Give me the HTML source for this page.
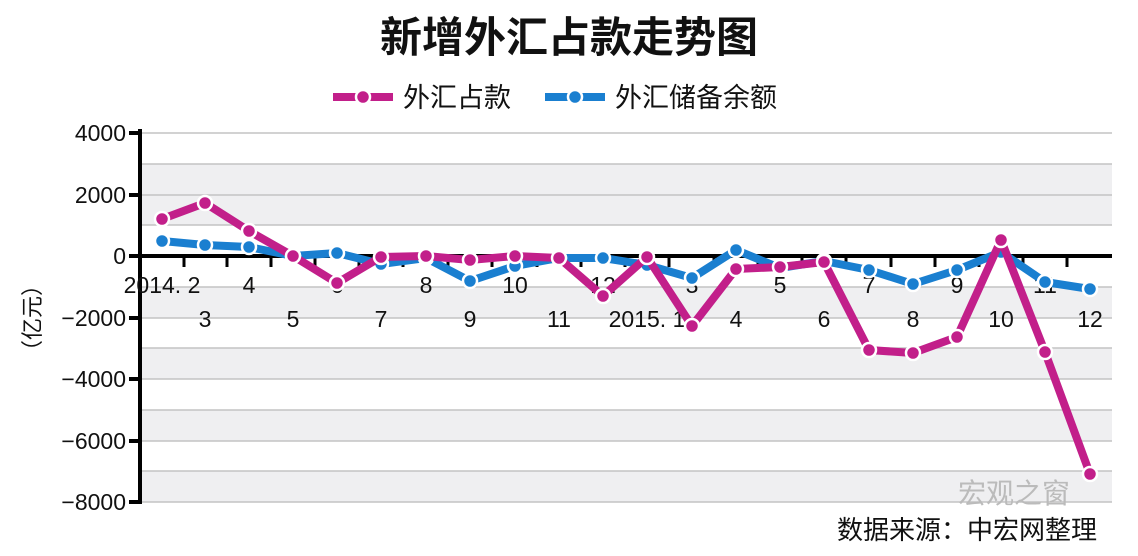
<!DOCTYPE html>
<html><head><meta charset="utf-8"><style>
body{margin:0;background:#fff}
svg text{font-family:"Liberation Sans","Noto Sans CJK SC",sans-serif}
</style></head><body>
<svg width="1138" height="551" viewBox="0 0 1138 551" xmlns="http://www.w3.org/2000/svg">
<text x="569" y="52" text-anchor="middle" font-size="42" font-weight="bold" fill="#111">新增外汇占款走势图</text>
<line x1="333" y1="97" x2="393" y2="97" stroke="#c21f8a" stroke-width="8"/>
<circle cx="363" cy="97" r="7" fill="#c21f8a" stroke="#fff" stroke-width="2.5"/>
<text x="403" y="107" font-size="27" fill="#111">外汇占款</text>
<line x1="545" y1="97" x2="605" y2="97" stroke="#1a7fd0" stroke-width="8"/>
<circle cx="575" cy="97" r="7" fill="#1a7fd0" stroke="#fff" stroke-width="2.5"/>
<text x="615" y="107" font-size="27" fill="#111">外汇储备余额</text>
<g fill="#efeff1">
<rect x="141" y="164" width="971" height="61"/>
<rect x="141" y="287" width="971" height="31"/>
<rect x="141" y="348" width="971" height="31"/>
<rect x="141" y="410" width="971" height="31"/>
<rect x="141" y="471" width="971" height="31"/>
</g>
<g stroke="#c4c4c4" stroke-width="1.5">
<line x1="141" y1="133" x2="1112" y2="133"/><line x1="141" y1="164" x2="1112" y2="164"/>
<line x1="141" y1="195" x2="1112" y2="195"/><line x1="141" y1="225" x2="1112" y2="225"/>
<line x1="141" y1="287" x2="1112" y2="287"/><line x1="141" y1="318" x2="1112" y2="318"/>
<line x1="141" y1="348" x2="1112" y2="348"/><line x1="141" y1="379" x2="1112" y2="379"/>
<line x1="141" y1="410" x2="1112" y2="410"/><line x1="141" y1="441" x2="1112" y2="441"/>
<line x1="141" y1="471" x2="1112" y2="471"/><line x1="141" y1="502" x2="1112" y2="502"/>
</g>
<g stroke="#000" stroke-width="4">
<line x1="140" y1="129" x2="140" y2="504"/>
<line x1="138" y1="256" x2="1112" y2="256"/>
<line x1="129" y1="133" x2="140" y2="133"/><line x1="129" y1="195" x2="140" y2="195"/>
<line x1="129" y1="256" x2="140" y2="256"/><line x1="129" y1="318" x2="140" y2="318"/>
<line x1="129" y1="379" x2="140" y2="379"/><line x1="129" y1="441" x2="140" y2="441"/>
<line x1="129" y1="502" x2="140" y2="502"/>
</g>
<g font-size="23" fill="#111" text-anchor="end">
<text x="126" y="141">4000</text><text x="126" y="203">2000</text><text x="126" y="264">0</text>
<text x="126" y="326">−2000</text><text x="126" y="387">−4000</text><text x="126" y="449">−6000</text><text x="126" y="510">−8000</text>
</g>
<text transform="translate(40,318) rotate(-90)" font-size="22" fill="#111" text-anchor="middle">（亿元）</text>
<g font-size="23" fill="#111" text-anchor="middle">
<text x="162" y="293">2014. 2</text><text x="205" y="327">3</text><text x="249" y="293">4</text>
<text x="293" y="327">5</text><text x="337" y="293">6</text><text x="381" y="327">7</text>
<text x="426" y="293">8</text><text x="470" y="327">9</text><text x="515" y="293">10</text>
<text x="559" y="327">11</text><text x="603" y="293">12</text><text x="647" y="327">2015. 1</text>
<text x="692" y="293">3</text><text x="736" y="327">4</text><text x="780" y="293">5</text>
<text x="824" y="327">6</text><text x="869" y="293">7</text><text x="913" y="327">8</text>
<text x="957" y="293">9</text><text x="1001" y="327">10</text><text x="1045" y="293">11</text>
<text x="1090" y="327">12</text>
</g>
<g stroke="#000" stroke-width="3">
<line x1="184" y1="256" x2="184" y2="267"/><line x1="227" y1="256" x2="227" y2="267"/>
<line x1="271" y1="256" x2="271" y2="267"/><line x1="315" y1="256" x2="315" y2="267"/>
<line x1="359" y1="256" x2="359" y2="267"/><line x1="403" y1="256" x2="403" y2="267"/>
<line x1="448" y1="256" x2="448" y2="267"/><line x1="492" y1="256" x2="492" y2="267"/>
<line x1="537" y1="256" x2="537" y2="267"/><line x1="581" y1="256" x2="581" y2="267"/>
<line x1="625" y1="256" x2="625" y2="267"/><line x1="669" y1="256" x2="669" y2="267"/>
<line x1="714" y1="256" x2="714" y2="267"/><line x1="758" y1="256" x2="758" y2="267"/>
<line x1="802" y1="256" x2="802" y2="267"/><line x1="846" y1="256" x2="846" y2="267"/>
<line x1="891" y1="256" x2="891" y2="267"/><line x1="935" y1="256" x2="935" y2="267"/>
<line x1="979" y1="256" x2="979" y2="267"/><line x1="1023" y1="256" x2="1023" y2="267"/>
<line x1="1067" y1="256" x2="1067" y2="267"/>
</g>
<polyline fill="none" stroke="#1a7fd0" stroke-width="8" stroke-linejoin="round"
points="162,241 205,245 249,247 293,256 337,253 381,264 426,258 470,281 515,266 559,258 603,258 647,265 692,278 736,250 780,268 824,261 869,270 913,284 957,270 1001,252 1045,282 1090,289"/>
<g fill="#1a7fd0" stroke="#fff" stroke-width="2.5">
<circle cx="162" cy="241" r="7"/><circle cx="205" cy="245" r="7"/><circle cx="249" cy="247" r="7"/><circle cx="293" cy="256" r="7"/><circle cx="337" cy="253" r="7"/><circle cx="381" cy="264" r="7"/><circle cx="426" cy="258" r="7"/><circle cx="470" cy="281" r="7"/><circle cx="515" cy="266" r="7"/><circle cx="559" cy="258" r="7"/><circle cx="603" cy="258" r="7"/><circle cx="647" cy="265" r="7"/><circle cx="692" cy="278" r="7"/><circle cx="736" cy="250" r="7"/><circle cx="780" cy="268" r="7"/><circle cx="824" cy="261" r="7"/><circle cx="869" cy="270" r="7"/><circle cx="913" cy="284" r="7"/><circle cx="957" cy="270" r="7"/><circle cx="1001" cy="252" r="7"/><circle cx="1045" cy="282" r="7"/><circle cx="1090" cy="289" r="7"/>
</g>
<polyline fill="none" stroke="#c21f8a" stroke-width="8" stroke-linejoin="round"
points="162,219 205,203 249,231 293,256 337,283 381,257 426,256 470,260 515,256 559,258 603,296 647,257 692,326 736,269 780,267 824,262 869,350 913,353 957,337 1001,240 1045,352 1090,474"/>
<g fill="#c21f8a" stroke="#fff" stroke-width="2.5">
<circle cx="162" cy="219" r="7"/><circle cx="205" cy="203" r="7"/><circle cx="249" cy="231" r="7"/><circle cx="293" cy="256" r="7"/><circle cx="337" cy="283" r="7"/><circle cx="381" cy="257" r="7"/><circle cx="426" cy="256" r="7"/><circle cx="470" cy="260" r="7"/><circle cx="515" cy="256" r="7"/><circle cx="559" cy="258" r="7"/><circle cx="603" cy="296" r="7"/><circle cx="647" cy="257" r="7"/><circle cx="692" cy="326" r="7"/><circle cx="736" cy="269" r="7"/><circle cx="780" cy="267" r="7"/><circle cx="824" cy="262" r="7"/><circle cx="869" cy="350" r="7"/><circle cx="913" cy="353" r="7"/><circle cx="957" cy="337" r="7"/><circle cx="1001" cy="240" r="7"/><circle cx="1045" cy="352" r="7"/><circle cx="1090" cy="474" r="7"/>
</g>
<text x="958" y="503" font-size="28" fill="#bbb">宏观之窗</text>
<text x="1097" y="539" text-anchor="end" font-size="26" fill="#111">数据来源：中宏网整理</text>
</svg>
</body></html>
